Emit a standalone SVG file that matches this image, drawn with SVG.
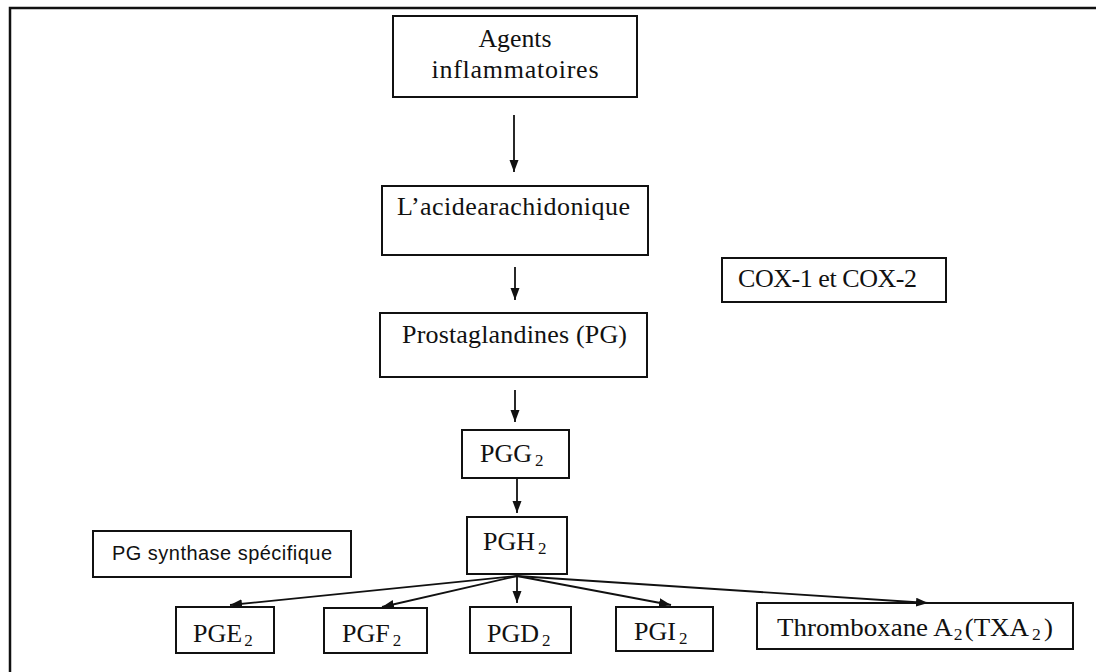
<svg xmlns="http://www.w3.org/2000/svg" width="1096" height="672" viewBox="0 0 1096 672">
  <style>
    .box { fill: #fff; stroke: #111; stroke-width: 2; }
    .t { font-family: "Liberation Serif", "Times New Roman", serif; font-size: 26px; fill: #111; }
    .s { font-family: "Liberation Sans", Arial, sans-serif; font-size: 20px; fill: #111; }
    .sub { font-size: 17px; }
    .c { stroke: #111; stroke-width: 1.8; fill: none; marker-end: url(#ah); }
  </style>
  <defs>
    <marker id="ah" markerUnits="userSpaceOnUse" markerWidth="13" markerHeight="10" refX="12" refY="4.5" orient="auto">
      <path d="M0,0 L12,4.5 L0,9 z" fill="#111"/>
    </marker>
  </defs>
  <rect x="0" y="0" width="1096" height="672" fill="#fff"/>
  <rect x="10" y="8" width="1100" height="700" fill="none" stroke="#111" stroke-width="2.5"/>

  <g id="agents">
    <rect class="box" x="393" y="16" width="244" height="81"/>
    <text class="t" x="515" y="47" text-anchor="middle" font-size="27" textLength="73" lengthAdjust="spacingAndGlyphs">Agents</text>
    <text class="t" x="515" y="78" text-anchor="middle" font-size="27" textLength="167" lengthAdjust="spacing">inflammatoires</text>
  </g>
  <g id="acide">
    <rect class="box" x="382" y="186" width="266" height="69"/>
    <text class="t" x="397" y="215" textLength="233" lengthAdjust="spacing">L’acidearachidonique</text>
  </g>
  <g id="pg">
    <rect class="box" x="380" y="313" width="267" height="64"/>
    <text class="t" x="402" y="343" textLength="225" lengthAdjust="spacing">Prostaglandines (PG)</text>
  </g>
  <g id="cox">
    <rect class="box" x="722" y="258" width="224" height="44"/>
    <text class="t" x="738" y="287" textLength="179" lengthAdjust="spacing">COX-1 et COX-2</text>
  </g>
  <g id="pgg2">
    <rect class="box" x="462" y="430" width="107" height="48"/>
    <text class="t" x="480" y="462">PGG<tspan class="sub" dx="3" dy="4">2</tspan></text>
  </g>
  <g id="pgh2">
    <rect class="box" x="467" y="517" width="100" height="57"/>
    <text class="t" x="483" y="550">PGH<tspan class="sub" dx="3" dy="4">2</tspan></text>
  </g>
  <g id="synthase">
    <rect class="box" x="93" y="531" width="258" height="46"/>
    <text class="s" x="112" y="560" textLength="220" lengthAdjust="spacing">PG synthase spécifique</text>
  </g>
  <g id="pge2">
    <rect class="box" x="176" y="607" width="98" height="46"/>
    <text class="t" x="193" y="642">PGE<tspan class="sub" dx="2" dy="4">2</tspan></text>
  </g>
  <g id="pgf2">
    <rect class="box" x="324" y="608" width="103" height="45"/>
    <text class="t" x="342" y="642">PGF<tspan class="sub" dx="3" dy="4">2</tspan></text>
  </g>
  <g id="pgd2">
    <rect class="box" x="470" y="607" width="101" height="46"/>
    <text class="t" x="487" y="642">PGD<tspan class="sub" dx="3" dy="4">2</tspan></text>
  </g>
  <g id="pgi2">
    <rect class="box" x="616" y="607" width="97" height="44"/>
    <text class="t" x="634" y="640">PGI<tspan class="sub" dx="3" dy="4">2</tspan></text>
  </g>
  <g id="txa2">
    <rect class="box" x="757" y="603" width="316" height="46"/>
    <text class="t" x="777" y="636" textLength="276" lengthAdjust="spacingAndGlyphs">Thromboxane A<tspan class="sub" dx="1" dy="4">2</tspan><tspan dx="2" dy="-4">(TXA</tspan><tspan class="sub" dx="3" dy="4">2</tspan><tspan dx="3" dy="-4">)</tspan></text>
  </g>

  <g id="connectors">
    <line class="c" x1="514" y1="115" x2="514" y2="172"/>
    <line class="c" x1="515" y1="267" x2="515" y2="300"/>
    <line class="c" x1="515" y1="390" x2="515" y2="422"/>
    <line class="c" x1="517" y1="478" x2="517" y2="513"/>
    <line class="c" x1="517" y1="576" x2="230" y2="605"/>
    <line class="c" x1="517" y1="576" x2="382" y2="607"/>
    <line class="c" x1="517" y1="576" x2="517" y2="603"/>
    <line class="c" x1="517" y1="576" x2="671" y2="605"/>
    <line class="c" x1="517" y1="576" x2="928" y2="603"/>
  </g>
</svg>
